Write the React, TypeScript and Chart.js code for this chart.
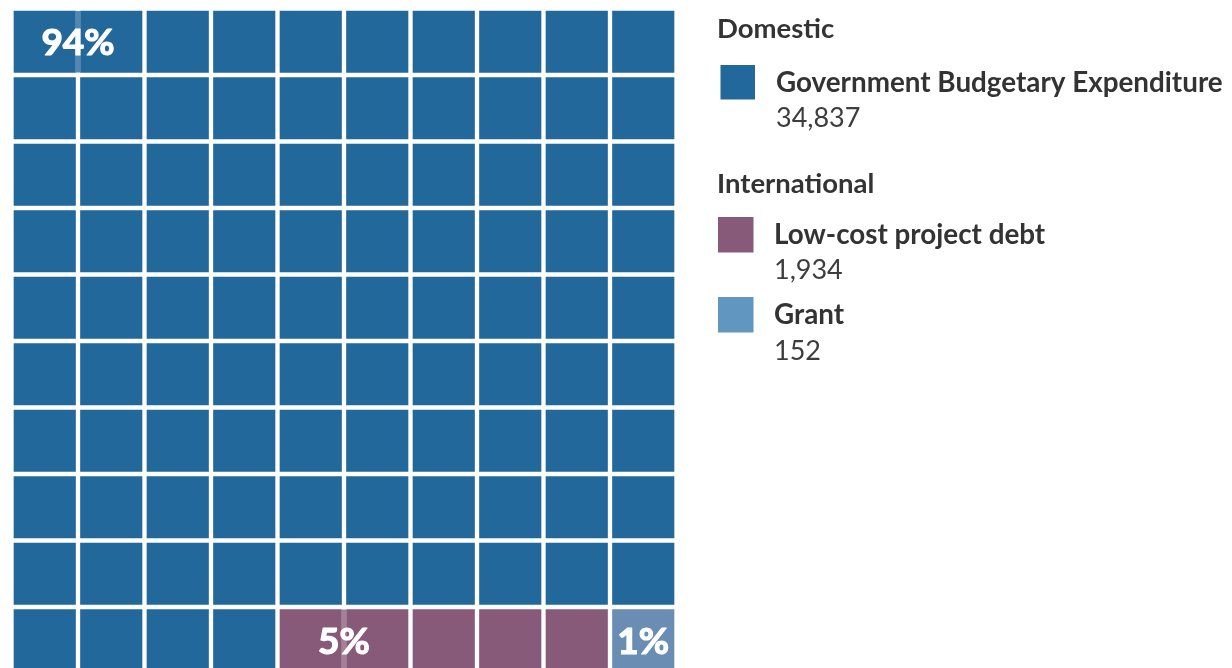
import React, { useEffect, useRef } from "react";
import { Chart, registerables } from "chart.js";

Chart.register(...registerables);

// ---- data ----
const groups = ["Domestic", "International"];
const categories = ["Government Budgetary Expenditure", "Low-cost project debt", "Grant"];
const amounts = [34837, 1934, 152];
const percents = [94, 5, 1];
const cellColors = ["#22689a", "#875a7a", "#6a8db4"];
const legendColors = ["#22689a", "#875a7a", "#6096c0"];
const stripeColors = ["#5586b0", "#a58099", "#8aa6c4"];
const columns = ["c1", "c2", "c3", "c4", "c5", "c6", "c7", "c8", "c9", "c10"];
const rows = 10;

const FONT = "Lato, 'Open Sans', sans-serif";

function categoryOfCell(index: number): number {
  let acc = 0;
  for (let k = 0; k < percents.length; k++) {
    acc += percents[k];
    if (index < acc) return k;
  }
  return percents.length - 1;
}

export default function App() {
  const ref = useRef<HTMLCanvasElement | null>(null);

  useEffect(() => {
    const canvas = ref.current;
    if (!canvas) return;
    document.body.style.margin = "0";

    const datasets = [];
    for (let d = 0; d < rows; d++) {
      const row = rows - 1 - d;
      datasets.push({
        label: "row" + row,
        data: columns.map(() => 1),
        backgroundColor: columns.map((_, c) => cellColors[categoryOfCell(row * columns.length + c)]),
        borderColor: "#ffffff",
        borderWidth: 2.5,
        borderSkipped: false as const,
        barPercentage: 1,
        categoryPercentage: 1,
      });
    }

    const labelPlugin = {
      id: "waffleLabels",
      afterDatasetsDraw(chart: any) {
        const ctx = chart.ctx;
        ctx.save();
        let start = 0;
        for (let k = 0; k < percents.length; k++) {
          const row = Math.floor(start / columns.length);
          const col = start % columns.length;
          const d = rows - 1 - row;
          const bar = chart.getDatasetMeta(d).data[col];
          const h = Math.abs(bar.height);
          const top = bar.y + 2.5;
          let cx = bar.x;
          if (percents[k] >= 2 && col + 1 < columns.length) {
            const bar2 = chart.getDatasetMeta(d).data[col + 1];
            cx = (bar.x + bar2.x) / 2;
            ctx.fillStyle = stripeColors[k];
            ctx.fillRect(cx - 2.5, top, 5, h - 5);
          }
          const cy = top + (h - 5) / 2;
          ctx.fillStyle = "#ffffff";
          ctx.strokeStyle = "#ffffff";
          ctx.lineWidth = 1.2;
          ctx.lineJoin = "round";
          ctx.font = "bold 37px " + FONT;
          ctx.textAlign = "center";
          ctx.textBaseline = "alphabetic";
          ctx.fillText(percents[k] + "%", cx, cy + 13.5);
          ctx.strokeText(percents[k] + "%", cx, cy + 13.5);
          start += percents[k];
        }
        ctx.restore();
      },
    };

    const legendPlugin = {
      id: "sideLegend",
      afterDraw(chart: any) {
        const ctx = chart.ctx;
        ctx.save();
        const groupBase = [38, 193];
        const squares = [
          { x: 720.5, y: 65, s: 34.5, tx: 776, nameY: 92, valY: 127 },
          { x: 718, y: 217, s: 35.5, tx: 774, nameY: 243.5, valY: 278.5 },
          { x: 718, y: 297, s: 35.5, tx: 774, nameY: 324, valY: 359.5 },
        ];
        ctx.textAlign = "left";
        ctx.textBaseline = "alphabetic";
        groups.forEach((g, i) => {
          ctx.fillStyle = "#333333";
          ctx.font = "bold 27.5px " + FONT;
          ctx.fillText(g, 717, groupBase[i]);
        });
        categories.forEach((name, k) => {
          const p = squares[k];
          ctx.fillStyle = legendColors[k];
          ctx.fillRect(p.x, p.y, p.s, p.s);
          ctx.fillStyle = "#333333";
          ctx.font = "bold 27.8px " + FONT;
          ctx.fillText(name, p.tx, p.nameY);
          ctx.fillStyle = "#3d3d3d";
          ctx.font = "400 27px " + FONT;
          ctx.fillText(amounts[k].toLocaleString("en-US"), p.tx, p.valY);
        });
        ctx.restore();
      },
    };

    const chart = new Chart(canvas, {
      type: "bar",
      data: { labels: columns, datasets: datasets as any },
      options: {
        animation: false,
        responsive: false,
        maintainAspectRatio: false,
        events: [],
        layout: { padding: { left: 11.5, top: 8.5, right: 1232 - 676.5, bottom: 690 - 673.5 } },
        plugins: { legend: { display: false }, tooltip: { enabled: false } },
        scales: {
          x: { stacked: true, display: false, grid: { display: false } },
          y: { stacked: true, display: false, min: 0, max: rows, grid: { display: false } },
        },
      },
      plugins: [labelPlugin, legendPlugin],
    });
    return () => chart.destroy();
  }, []);

  return (
    <div style={{ position: "fixed", left: 0, top: 0, width: 1232, height: 668, overflow: "hidden", background: "#fff" }}>
      <canvas ref={ref} width={1232} height={690} style={{ width: 1232, height: 690, display: "block" }} />
    </div>
  );
}
